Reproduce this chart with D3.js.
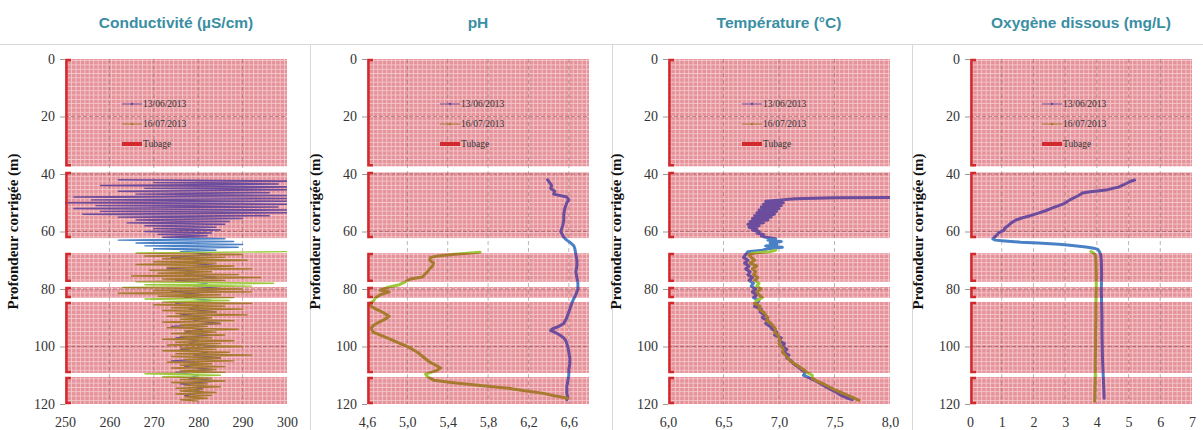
<!DOCTYPE html>
<html><head><meta charset="utf-8">
<script src="https://cdn.jsdelivr.net/npm/d3@7"></script>
<style>body{margin:0;background:#fff}</style>
</head><body><svg id="c" width="1203" height="430"></svg>
<script>
// ---------- DATA ----------
const titles = ["Conductivité (µS/cm)", "pH", "Température (°C)", "Oxygène dissous (mg/L)"];
const depthTicks = [0, 20, 40, 60, 80, 100, 120];
const condTicks = [250, 260, 270, 280, 290, 300];
const phTicks = [4.6, 5.0, 5.4, 5.8, 6.2, 6.6];
const tempTicks = [6.0, 6.5, 7.0, 7.5, 8.0];
const oxyTicks = [0, 1, 2, 3, 4, 5, 6, 7];
const seriesNames = ["13/06/2013", "16/07/2013", "Tubage"];

// casing (tubage) intervals, m
const casingTop =    [0,    39.3, 67.5, 79.3, 84.5, 110.6];
const casingBottom = [37.3, 62.3, 77.5, 83.1, 109.2, 120];

// Conductivity
const condDepth1 = [42,42.5,43,43.5,44,44.5,45,45.5,46,46.5,47,47.5,48,48.5,49,49.5,50,50.5,51,51.5,52,52.5,53,53.5,54,54.5,55,55.5,56,56.5,57,57.5,58,58.5,59,59.5,60,60.5,61,61.5,62,62.5,63,63.5,64,64.5,65,65.5,66,66.5,67,68,69,70,71,72,73,74,75,76,77,78,79,80,81,82,83,84,85,86,87,88,89,90,91,92,93,94,95,96,97,98,99,100,101,102,103,104,105,106,107,108,109,110,111,112,113,114,115,116,117,118];
const cond1 = [262,304,270,298,258,306,268,300,262,296,266,302,252,304,256,300,250,303,257,298,252,301,258,300,254,296,262,290,266,287,264,286,268,284,270,285,268,283,271,282,272,286,262,288,266,290,268,289,270,284,
276,283,274,281,278,285,273,280,277,284,275,282,279,286,274,281,277,283,275,280,278,284,276,282,279,285,274,281,277,283,275,280,278,284,276,282,279,285,274,281,277,283,275,280,278,284,276,282,279,281,277,280];
const condDepth2 = [67,67.5,68,68.5,69,69.5,70,70.5,71,71.5,72,72.5,73,73.5,74,74.5,75,75.5,76,76.5,77,77.5,78,78.5,79,79.5,80,80.5,81,81.5,82,82.5,83,83.5,84,84.5,85,85.5,86,86.5,87,87.5,88,88.5,89,89.5,90,90.5,91,91.5,92,92.5,93,93.5,94,94.5,95,95.5,96,96.5,97,97.5,98,98.5,99,99.5,100,100.5,101,101.5,102,102.5,103,103.5,104,104.5,105,105.5,106,106.5,107,107.5,108,108.5,109,109.5,110,110.5,111,111.5,112,112.5,113,113.5,114,114.5,115,115.5,116,116.5,117,117.5,118,118.5,119];
const cond2 = [300,266,290,268,286,272,291,270,284,266,288,273,292,269,283,271,289,265,294,272,286,266,297,268,292,263,290,270,292,262,285,271,288,268,287,272,292,270,286,274,290,272,284,275,291,273,283,276,288,272,285,276,282,273,289,277,284,274,286,276,283,272,288,275,285,273,290,276,284,272,287,275,292,274,285,277,288,273,283,276,286,274,284,276,286,268,285,272,283,276,286,274,282,277,285,275,281,276,284,275,283,277,282,276,280];

// pH
const phDepth1 = [42,43,44,45,46,47,48,49,50,52,54,56,58,60,62,63,64,65,66,68,70,72,74,76,78,80,82,84,86,88,90,92,93,94,94.5,95,96,97,98,100,102,104,106,108,110,112,114,116,118,118.5];
const ph1 = [6.39,6.41,6.43,6.42,6.46,6.45,6.58,6.6,6.58,6.56,6.55,6.55,6.54,6.52,6.55,6.58,6.62,6.65,6.66,6.67,6.68,6.68,6.67,6.68,6.69,6.69,6.67,6.64,6.62,6.6,6.58,6.55,6.5,6.43,6.42,6.46,6.51,6.55,6.57,6.59,6.6,6.61,6.61,6.6,6.6,6.59,6.58,6.58,6.59,6.58];
const phDepth2 = [67.2,67.8,68.5,69,70,71,72,73,74,75,75.8,76.5,77.5,78.5,79.5,80.4,81,82,83.2,84,85,86,87,88,89.5,90.5,91.5,92.5,93.6,95,97,99,100,102,104,105.4,106.5,107.5,108.5,109.6,110.5,111.7,112.8,113.5,114.5,115.5,116.3,117.2,118];
const ph2 = [5.72,5.5,5.3,5.23,5.22,5.26,5.25,5.22,5.2,5.17,5.15,5.03,4.98,4.92,4.8,4.73,4.82,4.73,4.68,4.67,4.63,4.64,4.69,4.75,4.82,4.78,4.72,4.67,4.64,4.66,4.8,4.93,5.0,5.1,5.17,5.22,5.28,5.33,5.28,5.18,5.2,5.26,5.5,5.7,6.0,6.18,6.35,6.47,6.59];

// Temperature
const tempDepth1 = [47.5,48,48.3,48.6,49,49.5,50,50.5,51,51.5,52,52.5,53,53.5,54,54.5,55,55.5,56,56.5,57,57.5,58,58.5,59,59.5,60,60.5,61,61.5,62,62.5,63,63.5,64,64.5,65,65.5,66,66.5,67,68,69,70,71,72,73,74,75,76,77,78,79,80,81,82,83,84,85,86,87,88,89,90,91,92,93,94,95,96,97,98,99,100,101,102,103,104,105,106,107,108,109,110,111,112,113,114,115,116,117,118,118.5];
const temp1 = [9.8,8.6,7.5,7.15,7.02,6.88,7.04,6.86,7.02,6.84,7.0,6.82,6.98,6.8,6.96,6.78,6.93,6.76,6.9,6.74,6.86,6.72,6.82,6.73,6.8,6.76,6.82,6.8,6.86,6.84,6.88,6.97,6.9,7.02,6.92,6.98,6.88,7.03,6.9,6.85,6.72,6.7,6.68,6.72,6.69,6.73,6.7,6.74,6.72,6.76,6.73,6.77,6.75,6.79,6.76,6.8,6.77,6.82,6.8,6.78,6.84,6.83,6.87,6.85,6.9,6.88,6.92,6.94,6.98,6.96,7.02,7.0,7.05,7.03,7.07,7.04,7.09,7.07,7.11,7.13,7.17,7.2,7.24,7.22,7.28,7.33,7.38,7.42,7.47,7.52,7.56,7.62,7.66];
const tempDepth2 = [66.5,67,67.5,68,69,70,71,72,73,74,75,76,77,78,79,80,81,82,83,84,85,86,87,88,89,90,91,92,93,94,95,96,97,98,99,100,101,102,103,104,105,106,107,108,109,110,111,112,113,114,115,116,117,118,118.7];
const temp2 = [6.97,6.92,6.78,6.73,6.75,6.78,6.74,6.8,6.76,6.79,6.77,6.81,6.78,6.82,6.8,6.84,6.8,6.82,6.85,6.8,6.78,6.83,6.82,6.86,6.88,6.9,6.89,6.93,6.95,6.97,6.96,6.99,7.0,7.01,7.0,7.02,7.04,7.03,7.06,7.08,7.1,7.14,7.18,7.22,7.25,7.3,7.3,7.34,7.4,7.45,7.5,7.56,7.62,7.68,7.72];

// Dissolved oxygen
const oxyDepth1 = [42.1,42.6,43.3,44.5,45,45.6,46.2,46.6,47.5,48,49,50.1,51,51.8,52.7,53.6,54.5,55.3,56,57,58,58.8,59.5,60.5,61.2,61.9,62.6,63,63.3,63.7,64,64.4,64.8,65.4,65.8,66.2,67,68,70,75,80,85,90,95,100,105,110,115,118];
const oxy1 = [5.19,5.05,4.93,4.7,4.5,4.29,3.8,3.55,3.42,3.33,3.15,3.0,2.8,2.6,2.4,2.16,1.9,1.63,1.45,1.3,1.2,1.1,1.08,0.9,0.85,0.78,0.72,0.8,1.1,1.6,2.15,2.8,3.15,3.65,3.9,4.03,4.08,4.12,4.14,4.15,4.14,4.15,4.16,4.16,4.17,4.18,4.2,4.22,4.23];
const oxyDepth2 = [67,67.5,68,70,75,80,85,90,95,100,105,110,115,119];
const oxy2 = [3.81,3.9,3.95,3.97,3.98,3.98,3.97,3.97,3.96,3.96,3.95,3.95,3.94,3.93];

// ---------- LAYOUT / STYLE ----------
const W = 222;
const comma = f => (v => d3.format(f)(v).replace(".", ","));
const panels = [
  {left: 65,  domain: [250, 300], ticks: condTicks, fmt: d3.format("d"), d1: condDepth1, v1: cond1, d2: condDepth2, v2: cond2, lw: 1.4, legDx: 57},
  {left: 367, domain: [4.6, 6.8], ticks: phTicks, fmt: comma(".1f"), d1: phDepth1, v1: ph1, d2: phDepth2, v2: ph2, lw: 3, legDx: 73},
  {left: 668, domain: [6.0, 8.0], ticks: tempTicks, fmt: comma(".1f"), d1: tempDepth1, v1: temp1, d2: tempDepth2, v2: temp2, lw: 3, legDx: 74},
  {left: 970, domain: [0, 7], ticks: oxyTicks, fmt: d3.format("d"), d1: oxyDepth1, v1: oxy1, d2: oxyDepth2, v2: oxy2, lw: 3, legDx: 72}
];
const C1 = "#6c4c9c", C1o = "#4a80c6", C2 = "#a77b2f", C2o = "#9cc93c", CT = "#d22a2c";

const svg = d3.select("#c");
const defs = svg.append("defs");
const pat = defs.append("pattern").attr("id", "pat").attr("patternUnits", "userSpaceOnUse")
  .attr("width", 4.44).attr("height", 4.3);
pat.append("rect").attr("width", 4.44).attr("height", 4.3).attr("fill", "#e6929a");
pat.append("path").attr("d", "M0,0.5H4.44M0.5,0V4.3").attr("stroke", "#fff")
  .attr("stroke-opacity", 0.5).attr("stroke-width", 0.9);

// frame lines
svg.append("line").attr("x1", 0).attr("x2", 1203).attr("y1", 44.5).attr("y2", 44.5).attr("stroke", "#d8d8d8");
[310.5, 612.5, 912.5].forEach(xx => svg.append("line").attr("x1", xx).attr("x2", xx).attr("y1", 44).attr("y2", 430).attr("stroke", "#d8d8d8"));

const y = d3.scaleLinear().domain([0, 120]).range([59, 404]);
const openTop = casingBottom.slice(0, -1), openBottom = casingTop.slice(1);

panels.forEach((p, i) => {
  const x = d3.scaleLinear().domain(p.domain).range([p.left, p.left + W]);
  const g = svg.append("g");

  g.append("text").attr("x", p.left + W / 2).attr("y", 28).attr("text-anchor", "middle")
    .attr("font-family", "Liberation Sans, Arial, sans-serif").attr("font-weight", "bold")
    .attr("font-size", 15.5).attr("fill", "#3a8ea3").text(titles[i]);

  // casing background
  casingTop.forEach((t, k) => g.append("rect").attr("x", p.left).attr("y", y(t))
    .attr("width", W).attr("height", y(casingBottom[k]) - y(t)).attr("fill", "url(#pat)"));

  // clip paths
  const cc = defs.append("clipPath").attr("id", "cased" + i);
  casingTop.forEach((t, k) => cc.append("rect").attr("x", p.left).attr("y", y(t)).attr("width", W).attr("height", y(casingBottom[k]) - y(t)));
  const co = defs.append("clipPath").attr("id", "open" + i);
  openTop.forEach((t, k) => co.append("rect").attr("x", p.left).attr("y", y(t)).attr("width", W).attr("height", y(openBottom[k]) - y(t)));

  // gridlines
  p.ticks.filter(t => x(t) > p.left + 2 && x(t) < p.left + W - 2).forEach(t =>
    g.append("line").attr("x1", x(t)).attr("x2", x(t)).attr("y1", y(0)).attr("y2", y(120))
      .attr("stroke", "#7a5a5a").attr("stroke-opacity", 0.45).attr("stroke-dasharray", "4,3"));
  depthTicks.filter(t => t > 0 && t < 120).forEach(t =>
    g.append("line").attr("x1", p.left).attr("x2", p.left + W).attr("y1", y(t)).attr("y2", y(t))
      .attr("stroke", "#7a4545").attr("stroke-opacity", 0.5).attr("stroke-dasharray", "4,2"));

  // series
  const line = d3.line().x(d => x(d[1])).y(d => y(d[0]));
  const s1 = p.d1.map((d, k) => [d, p.v1[k]]);
  const s2 = p.d2.map((d, k) => [d, p.v2[k]]);
  [[s1, C1, C1o], [s2, C2, C2o]].forEach(([s, cA, cB]) => {
    g.append("path").attr("d", line(s)).attr("fill", "none").attr("stroke", cA)
      .attr("stroke-width", p.lw).attr("stroke-linejoin", "round").attr("stroke-linecap", "round")
      .attr("clip-path", `url(#cased${i})`);
    g.append("path").attr("d", line(s)).attr("fill", "none").attr("stroke", cB)
      .attr("stroke-width", p.lw).attr("stroke-linejoin", "round").attr("stroke-linecap", "round")
      .attr("clip-path", `url(#open${i})`);
  });

  // tubage brackets
  casingTop.forEach((t, k) => {
    const b = casingBottom[k];
    g.append("path").attr("d", `M${p.left + 6},${y(t) + 1}H${p.left + 1.5}V${y(b) - 1}H${p.left + 6}`)
      .attr("fill", "none").attr("stroke", CT).attr("stroke-width", 2.5);
  });

  // axes
  const ya = g.append("g").attr("transform", `translate(${p.left},0)`)
    .call(d3.axisLeft(y).tickValues(depthTicks).tickSize(5).tickPadding(5));
  ya.select(".domain").remove();
  ya.selectAll("line").attr("stroke", "#999");
  ya.selectAll("text").attr("font-family", "Liberation Serif, Times New Roman, serif").attr("font-size", 14).attr("fill", "#333");
  const xa = g.append("g").attr("transform", `translate(0,${y(120)})`)
    .call(d3.axisBottom(x).tickValues(p.ticks).tickFormat(p.fmt).tickSize(0).tickPadding(13));
  xa.select(".domain").remove();
  xa.selectAll("text").attr("font-family", "Liberation Serif, Times New Roman, serif").attr("font-size", 14).attr("fill", "#333");

  // y title
  g.append("text").attr("transform", `translate(${p.left - 47},${(y(0) + y(120)) / 2}) rotate(-90)`)
    .attr("text-anchor", "middle").attr("font-family", "Liberation Serif, Times New Roman, serif")
    .attr("font-weight", "bold").attr("font-size", 15).attr("fill", "#111").text("Profondeur corrigée (m)");

  // legend
  const lx = p.left + p.legDx;
  const ly = [104, 124, 144];
  const lc = [C1, C2, CT], lw = [1, 1, 4];
  seriesNames.forEach((n, k) => {
    g.append("line").attr("x1", lx).attr("x2", lx + 20).attr("y1", ly[k]).attr("y2", ly[k])
      .attr("stroke", lc[k]).attr("stroke-width", lw[k]);
    if (k < 2) g.append("circle").attr("cx", lx + 10).attr("cy", ly[k]).attr("r", 1.3).attr("fill", lc[k]);
    g.append("text").attr("x", lx + 21).attr("y", ly[k]).attr("dy", "0.35em")
      .attr("font-family", "Liberation Serif, Times New Roman, serif").attr("font-size", 9.5)
      .attr("fill", "#333").text(n);
  });
});
</script></body></html>
